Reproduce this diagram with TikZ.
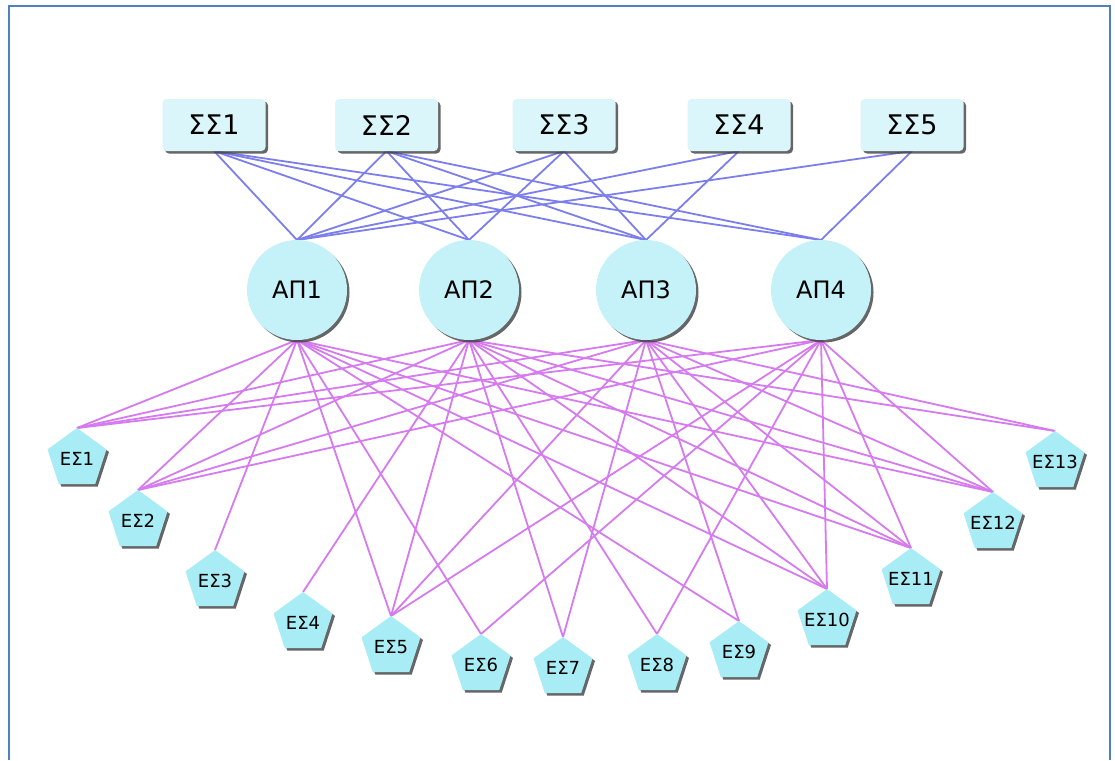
\documentclass[tikz,border=0pt]{standalone}
\usepackage{fontspec}
\setmainfont{DejaVu Sans}
\usetikzlibrary{shapes.geometric,shadows,backgrounds}
\definecolor{frameblue}{RGB}{79,129,189}
\definecolor{boxfill}{RGB}{219,246,250}
\definecolor{circfill}{RGB}{197,242,248}
\definecolor{pentfill}{RGB}{168,237,245}
\definecolor{topline}{RGB}{124,126,236}
\definecolor{botline}{RGB}{214,122,240}
\newcommand{\estext}[1]{\makebox[0pt]{#1}}
\begin{document}
\begin{tikzpicture}[x=1pt,y=-1pt,
  shd/.style={drop shadow={shadow xshift=2.5pt,shadow yshift=-2.5pt,fill=black!75,opacity=0.8}},
  ssbox/.style={shape=rectangle,rounded corners=4pt,fill=boxfill,minimum width=103pt,minimum height=52pt,inner sep=0pt,outer sep=0pt,font=\fontsize{27}{32}\selectfont,shd},
  apnode/.style={circle,fill=circfill,minimum size=100pt,inner sep=0pt,outer sep=0pt,font=\fontsize{24}{29}\selectfont,shd},
  esnode/.style={regular polygon,regular polygon sides=5,fill=pentfill,minimum size=62pt,inner sep=0pt,outer sep=0pt,font=\fontsize{18}{21}\selectfont,shd},
  tl/.style={draw=topline,line width=1.8pt},
  bl/.style={draw=botline,line width=1.8pt}]
\useasboundingbox (0,0) rectangle (1115,760);
\draw[frameblue,line width=2pt] (8.5,760) -- (8.5,6) -- (1110,6) -- (1110,760);

% top boxes
\node[ssbox] (s1) at (214,125) {ΣΣ1};
\node[ssbox] (s2) at (386.5,125) {ΣΣ2};
\node[ssbox] (s3) at (564,125) {ΣΣ3};
\node[ssbox] (s4) at (739,125) {ΣΣ4};
\node[ssbox] (s5) at (912,125) {ΣΣ5};

% middle circles
\node[apnode] (a1) at (297,290) {ΑΠ1};
\node[apnode] (a2) at (469,290) {ΑΠ2};
\node[apnode] (a3) at (646,290) {ΑΠ3};
\node[apnode] (a4) at (821,290) {ΑΠ4};

% pentagons
\node[esnode] (e1) at (77,459) {\estext{ΕΣ1}};
\node[esnode] (e2) at (138,521) {\estext{ΕΣ2}};
\node[esnode] (e3) at (215,581) {\estext{ΕΣ3}};
\node[esnode] (e4) at (303,623) {\estext{ΕΣ4}};
\node[esnode] (e5) at (391,647) {\estext{ΕΣ5}};
\node[esnode] (e6) at (481,665) {\estext{ΕΣ6}};
\node[esnode] (e7) at (563,668) {\estext{ΕΣ7}};
\node[esnode] (e8) at (657,665) {\estext{ΕΣ8}};
\node[esnode] (e9) at (739,652) {\estext{ΕΣ9}};
\node[esnode] (e10) at (827,620) {\estext{ΕΣ10}};
\node[esnode] (e11) at (911,579) {\estext{ΕΣ11}};
\node[esnode] (e12) at (993,523) {\estext{ΕΣ12}};
\node[esnode] (e13) at (1055,462) {\estext{ΕΣ13}};

\begin{pgfonlayer}{background}
\foreach \s/\a in {s1/a1,s1/a2,s1/a3,s1/a4,s2/a1,s2/a2,s2/a3,s2/a4,s3/a1,s3/a2,s3/a3,s4/a1,s4/a3,s5/a1,s5/a4}
  \draw[tl] (\s.south) -- (\a.north);
\foreach \a/\e in {a1/e1,a1/e2,a1/e3,a1/e5,a1/e6,a1/e9,a1/e10,a1/e11,a1/e12,
                   a2/e1,a2/e2,a2/e4,a2/e5,a2/e7,a2/e8,a2/e10,a2/e11,a2/e12,a2/e13,
                   a3/e1,a3/e2,a3/e5,a3/e7,a3/e9,a3/e10,a3/e11,a3/e12,a3/e13,
                   a4/e1,a4/e2,a4/e5,a4/e6,a4/e8,a4/e10,a4/e11,a4/e12}
  \draw[bl] (\a.south) -- (\e.corner 1);
\end{pgfonlayer}
\end{tikzpicture}
\end{document}
